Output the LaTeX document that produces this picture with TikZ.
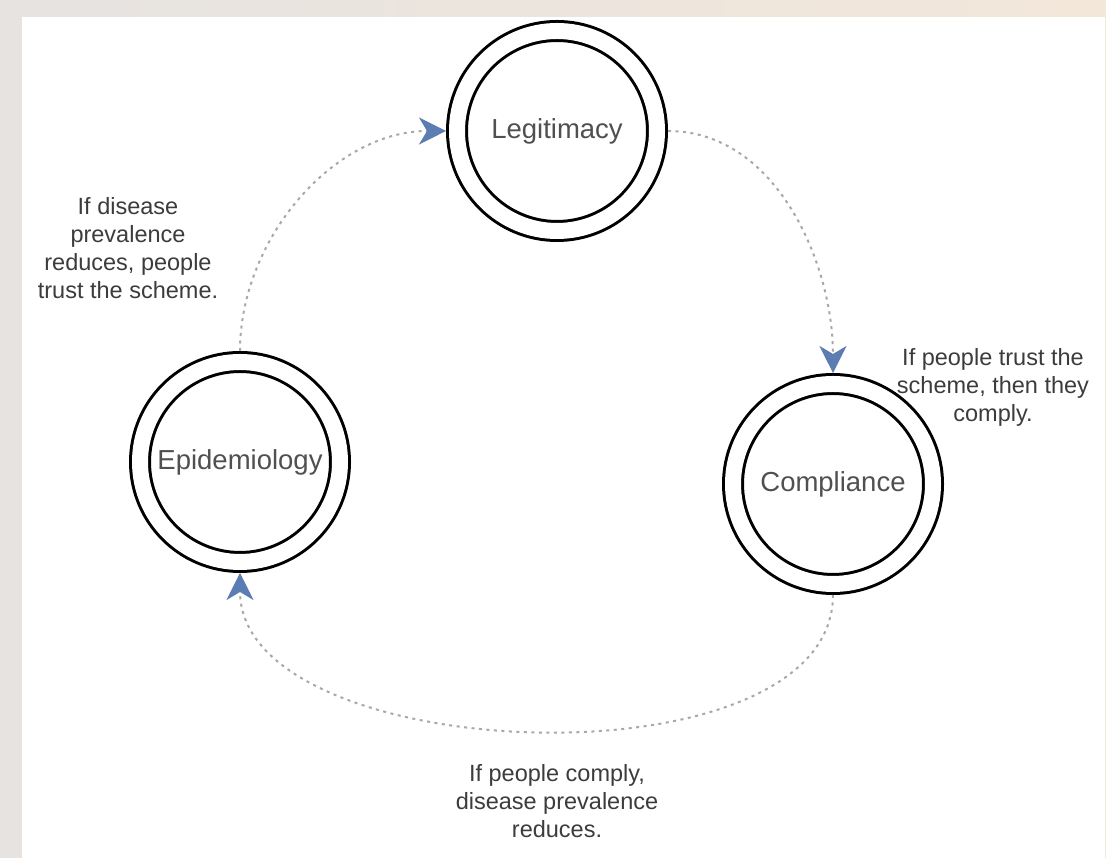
\documentclass[tikz,border=0pt]{standalone}
\usepackage{fontspec}
\setmainfont{Liberation Sans}
\usepackage{xcolor}
\usetikzlibrary{arrows.meta}
\definecolor{tipblue}{HTML}{5B7DB1}
\definecolor{dotgray}{HTML}{A8A8A8}
\definecolor{textgray}{HTML}{505050}
\definecolor{notegray}{HTML}{3C3C3C}
\definecolor{bggray}{HTML}{E6E3E1}
\definecolor{bgbeige}{HTML}{F3E7DA}
\tikzstyle{link} = [dotgray,line width=2pt,dash pattern=on 3pt off 4.5pt,-{Stealth[length=27pt,width=27pt,inset=8pt,color=tipblue]}]

\begin{document}
\begin{tikzpicture}
        [
            x=1pt,y=1pt,
            state/.style={circle,draw=black,double,double distance=16pt,line width=3pt,minimum size=200pt,outer sep=11pt,text=textgray,font=\fontsize{27.5}{33}\selectfont},
            note/.style={align=center,text=notegray,font=\fontsize{23.5}{28}\selectfont},
        ]
    \useasboundingbox (0,0) rectangle (1106,858);
    \shade[left color=bggray,right color=bgbeige] (0,0) rectangle (1106,858);
    \fill[white] (22,0) rectangle (1105,841);

    % the three states
    \node[state] (legit) at (557,727){Legitimacy};
    \node[state] (comp) at (833,374){Compliance};
    \node[state] (epi) at (240,396){Epidemiology};

    % the loop
    \draw[link] (epi) to[out=90,in=180,looseness=0.95] (legit);
    \draw[link] (legit) to[out=0,in=90,looseness=0.95] (comp);
    \draw[link] (comp) to[out=-90,in=-90,looseness=0.84] (epi);

    \node[note] (n1) at (128,610){If disease\\prevalence\\reduces, people\\trust the scheme.};
    \node[note] (n2) at (993,471){If people trust the\\scheme, then they\\comply.};
    \node[note] (n3) at (557,57){If people comply,\\disease prevalence\\reduces.};
\end{tikzpicture}
\end{document}
